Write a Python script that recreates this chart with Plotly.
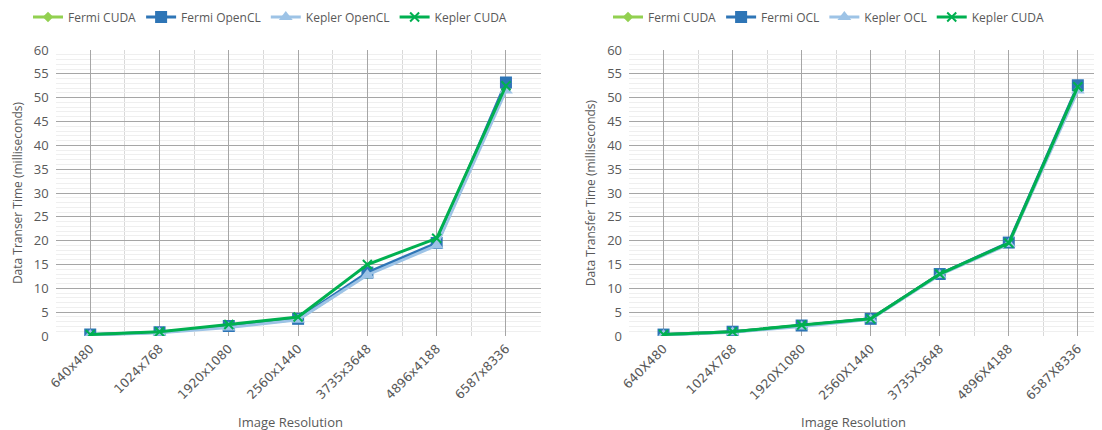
import plotly.graph_objects as go

# ---- data ----
categories_left = ["640x480", "1024x768", "1920x1080", "2560x1440", "3735x3648", "4896x4188", "6587x8336"]
categories_right = ["640X480", "1024X768", "1920X1080", "2560X1440", "3735X3648", "4896X4188", "6587X8336"]

left_fermi_cuda = [0.25, 0.8, 2.0, 3.5, 13.0, 19.3, 52.0]
left_fermi_opencl = [0.3, 0.8, 2.1, 3.6, 13.3, 19.5, 53.2]
left_kepler_opencl = [0.2, 0.7, 1.8, 3.4, 12.8, 19.0, 51.5]
left_kepler_cuda = [0.3, 0.9, 2.4, 4.0, 15.0, 20.5, 52.5]

right_fermi_cuda = [0.3, 0.9, 2.2, 3.6, 13.0, 19.4, 52.2]
right_fermi_ocl = [0.3, 0.9, 2.2, 3.6, 13.0, 19.6, 52.6]
right_kepler_ocl = [0.2, 0.8, 2.0, 3.5, 12.8, 19.3, 51.5]
right_kepler_cuda = [0.3, 0.9, 2.3, 3.6, 13.0, 19.5, 52.3]

left_names = ["Fermi CUDA", "Fermi OpenCL", "Kepler OpenCL", "Kepler CUDA"]
right_names = ["Fermi CUDA", "Fermi OCL", "Kepler OCL", "Kepler CUDA"]

colors = ["#92D050", "#2E75B6", "#9DC3E6", "#00B050"]
symbols = ["diamond", "square", "triangle-up", "x-thin"]
msizes = [8, 12, 12, 9]

FONT = "Open Sans"
GRAY = "#595959"

# page offset (default body margin of 8px)
OFF = 8
W, H = 1102 - OFF, 430 - OFF

fig = go.Figure()
xi = list(range(len(categories_left)))

def add_series(vals_list, names, xa, ya, legend):
    for vals, name, c, s, ms in zip(vals_list, names, colors, symbols, msizes):
        marker = dict(color=c, size=ms, symbol=s)
        if s == "x-thin":
            marker["line"] = dict(color=c, width=2)
        fig.add_trace(go.Scatter(
            x=xi, y=vals, name=name, mode="lines+markers",
            line=dict(color=c, width=3), marker=marker,
            xaxis=xa, yaxis=ya, legend=legend,
        ))

add_series([left_fermi_cuda, left_fermi_opencl, left_kepler_opencl, left_kepler_cuda],
           left_names, "x", "y", "legend")
add_series([right_fermi_cuda, right_fermi_ocl, right_kepler_ocl, right_kepler_cuda],
           right_names, "x2", "y2", "legend2")

PLOT_TOP = 50 - OFF
PLOT_BOT = 336 - OFF
PH = PLOT_BOT - PLOT_TOP

def py(page_y):
    return (PLOT_BOT - (page_y - OFF)) / PH

def px(page_x):
    return (page_x - OFF) / W

def cy(page_y):
    return 1 - (page_y - OFF) / H

def xaxis(domain, labels, rng):
    return dict(
        domain=domain, range=rng, tickmode="array", tickvals=xi, ticktext=labels,
        tickangle=-45, tickfont=dict(family="DejaVu Sans", size=12.5, color=GRAY),
        showgrid=True, gridcolor="#A6A6A6", gridwidth=1,
        minor=dict(tickmode="linear", tick0=-0.5, dtick=1, showgrid=True, gridcolor="#D9D9D9", gridwidth=1, ticks=""),
        zeroline=False, showline=False, ticks="", ticklabelstandoff=2,
        automargin=False, fixedrange=True,
    )

def yaxis(anchor, title):
    return dict(
        anchor=anchor, range=[0, 60], tickmode="linear", tick0=0, dtick=5,
        tickfont=dict(family=FONT, size=13, color=GRAY),
        showgrid=True, gridcolor="#A6A6A6", gridwidth=1,
        minor=dict(tickmode="linear", tick0=0, dtick=1, showgrid=True, gridcolor="#EFEFEF", gridwidth=1, ticks=""),
        zeroline=False, showline=False, ticks="", ticklabelstandoff=6,
        title=dict(text=title, font=dict(family=FONT, size=12, color=GRAY), standoff=8),
        automargin=False, domain=[0, 1],
    )

fig.update_layout(
    width=W, height=H,
    margin=dict(l=0, r=0, t=PLOT_TOP, b=H - PLOT_BOT, autoexpand=False),
    paper_bgcolor="white", plot_bgcolor="white",
    xaxis=xaxis([px(55.6), px(540.6)], categories_left, [-0.5, 6.5]),
    xaxis2=xaxis([px(629), 1.0], categories_right, [-0.5, 6.35]),
    yaxis=yaxis("x", "Data Transer Time (milliseconds)"),
    yaxis2=yaxis("x2", "Data Transfer Time (milliseconds)"),
    legend=dict(orientation="h", xref="container", yref="container",
                x=px(28), xanchor="left", y=cy(17), yanchor="middle",
                font=dict(family=FONT, size=12, color=GRAY), itemwidth=30,
                bgcolor="rgba(0,0,0,0)"),
    legend2=dict(orientation="h", xref="container", yref="container",
                 x=px(608), xanchor="left", y=cy(17), yanchor="middle",
                 font=dict(family=FONT, size=12, color=GRAY), itemwidth=30,
                 bgcolor="rgba(0,0,0,0)"),
    showlegend=True,
    annotations=[
        dict(text="Image Resolution", x=px(290), y=py(422), xref="paper", yref="paper",
             xanchor="center", yanchor="middle", showarrow=False,
             font=dict(family=FONT, size=13, color=GRAY)),
        dict(text="Image Resolution", x=px(853), y=py(422), xref="paper", yref="paper",
             xanchor="center", yanchor="middle", showarrow=False,
             font=dict(family=FONT, size=13, color=GRAY)),
    ],
)

fig.write_html("out.html")
